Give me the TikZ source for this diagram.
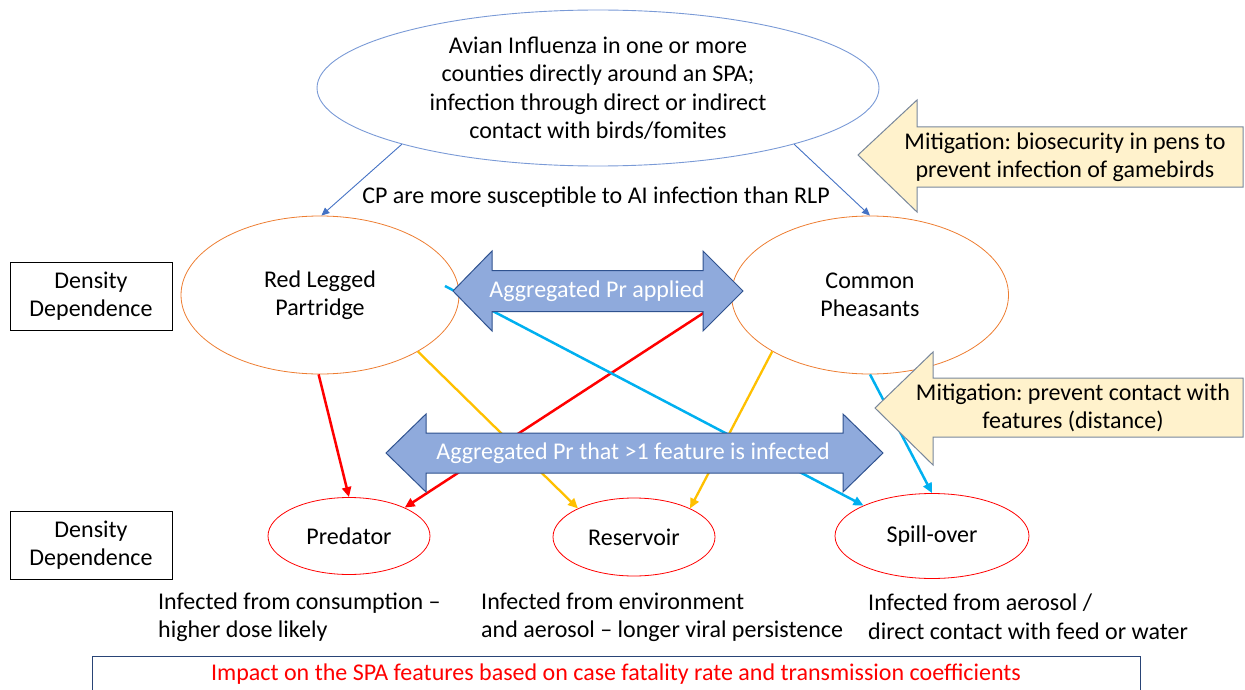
\documentclass[tikz,border=0pt]{standalone}
\usepackage{fontspec}
\setmainfont{Carlito}
\usetikzlibrary{shapes.geometric,arrows.meta}
\definecolor{topblue}{HTML}{4472C4}
\definecolor{topell}{HTML}{7A9AD6}
\definecolor{ellorange}{HTML}{ED7D31}
\definecolor{ellred}{HTML}{FF0000}
\definecolor{dafill}{HTML}{8FAADC}
\definecolor{dastroke}{HTML}{2F528F}
\definecolor{mitfill}{HTML}{FFF2CC}
\definecolor{mitstroke}{RGB}{120,135,155}
\definecolor{lred}{HTML}{FF0000}
\definecolor{lyellow}{HTML}{FFC000}
\definecolor{lcyan}{HTML}{00B0F0}
\begin{document}
\frenchspacing
\begin{tikzpicture}[x=1pt,y=-1pt,
  txt/.style={font=\fontsize{24}{28.5}\selectfont, align=center, inner sep=0pt},
  ell/.style={ellipse, draw, inner sep=0pt, font=\fontsize{24}{28.5}\selectfont, align=center},
  topellstyle/.style={ell, draw=topell, line width=0.9pt},
  birdell/.style={ell, draw=ellorange, line width=0.8pt},
  featell/.style={ell, draw=ellred, line width=0.8pt},
  ddbox/.style={draw=black, line width=0.8pt, minimum width=162pt, minimum height=68pt, inner sep=0pt, font=\fontsize{24}{28.5}\selectfont, align=center},
  thinarr/.style={draw=topblue, line width=0.9pt, -{Triangle[length=8pt,width=7pt]}},
  redarr/.style={draw=lred, line width=2.5pt, -{Triangle[length=10pt,width=9pt]}},
  yelarr/.style={draw=lyellow, line width=2.3pt, -{Triangle[length=10pt,width=9pt]}},
  cyanarr/.style={draw=lcyan, line width=2.5pt, -{Triangle[length=10pt,width=9pt]}},
  dashape/.style={fill=dafill, draw=dastroke, line width=1pt, line join=miter},
  mitshape/.style={fill=mitfill, draw=mitstroke, line width=1pt, line join=miter},
  whitetxt/.style={txt, text=white},
]
\useasboundingbox (0,0) rectangle (1245,690);

% ellipses
\node[topellstyle, minimum width=562pt, minimum height=156pt] (ai) at (598,88) {};
\node[txt] (aitext) at (ai.center)
  {Avian Influenza in one or more\\counties directly around an SPA;\\infection through direct or indirect\\contact with birds/fomites};
\node[birdell, minimum width=278pt, minimum height=158pt] (rlp) at (320,295) {Red Legged\\Partridge};
\node[birdell, minimum width=277pt, minimum height=158pt] (cp) at (870,295) {Common\\Pheasants};
\node[featell, minimum width=162pt, minimum height=77pt] (pred) at (349,536) {Predator};
\node[featell, minimum width=162pt, minimum height=78pt] (res) at (634,537) {Reservoir};
\node[featell, minimum width=194pt, minimum height=85pt] (spill) at (932,536) {Spill-over};

% density boxes
\node[ddbox] (dd1) at (91,296) {Density\\Dependence};
\node[ddbox] (dd2) at (91,545) {Density\\Dependence};

% susceptibility text
\node[txt] (cpt) at (596,197) {CP are more susceptible to AI infection than RLP};

% arrows from top ellipse
\draw[thinarr] (ai.-164.5) -- (rlp.89);
\draw[thinarr] (ai.-16) -- (cp.north);

% connectors
\coordinate (cyanstart) at (445,286);
\draw[redarr] (rlp.-91) -- (pred.north);
\draw[redarr] (cp.west) -- (pred.27);
\draw[yelarr] (rlp.-30) -- (res.153);
\draw[yelarr] (cp.-150) -- (res.27);
\draw[cyanarr] (cyanstart) -- (spill.156);
\draw[cyanarr] (cp.south) -- (spill.north);

% mitigation arrows
\path[mitshape] (858,155) -- (917,100) -- (917,127) -- (1243,127) -- (1243,187) -- (917,187) -- (917,212) -- cycle;
\node[txt] (mitA) at (1065,157) {Mitigation: biosecurity in pens to\\prevent infection of gamebirds};
\path[mitshape] (875,408) -- (933,352) -- (933,378) -- (1243,378) -- (1243,437) -- (933,437) -- (933,465) -- cycle;
\node[txt] (mitB) at (1073,408) {Mitigation: prevent contact with\\features (distance)};

% double arrows
\path[dashape] (453,291) -- (492,251) -- (492,270.5) -- (703,270.5) -- (703,251) -- (743,291) -- (703,331) -- (703,311.5) -- (492,311.5) -- (492,331) -- cycle;
\node[whitetxt] (aggA) at (597,291) {Aggregated Pr applied};
\path[dashape] (386,453) -- (426,414) -- (426,433) -- (843,433) -- (843,414) -- (883,453) -- (843,492) -- (843,473) -- (426,473) -- (426,492) -- cycle;
\node[whitetxt] (aggB) at (633,453) {Aggregated Pr that >1 feature is infected};

% bottom texts
\node[txt, align=left, anchor=west] (tpred) at (158,617) {Infected from consumption –\\higher dose likely};
\node[txt, align=left, anchor=west] (tres) at (481,617) {Infected from environment\\and aerosol – longer viral persistence};
\node[txt, align=left, anchor=west] (tspill) at (868,617) {Infected from aerosol /\\direct contact with feed or water};

% bottom box
\draw[draw=topblue!60!black, line width=0.8pt] (92,710) -- (92,656) -- (1140,656) -- (1140,710);
\node[txt, text=lred] (impact) at (616,674) {Impact on the SPA features based on case fatality rate and transmission coefficients};
\end{tikzpicture}
\end{document}
